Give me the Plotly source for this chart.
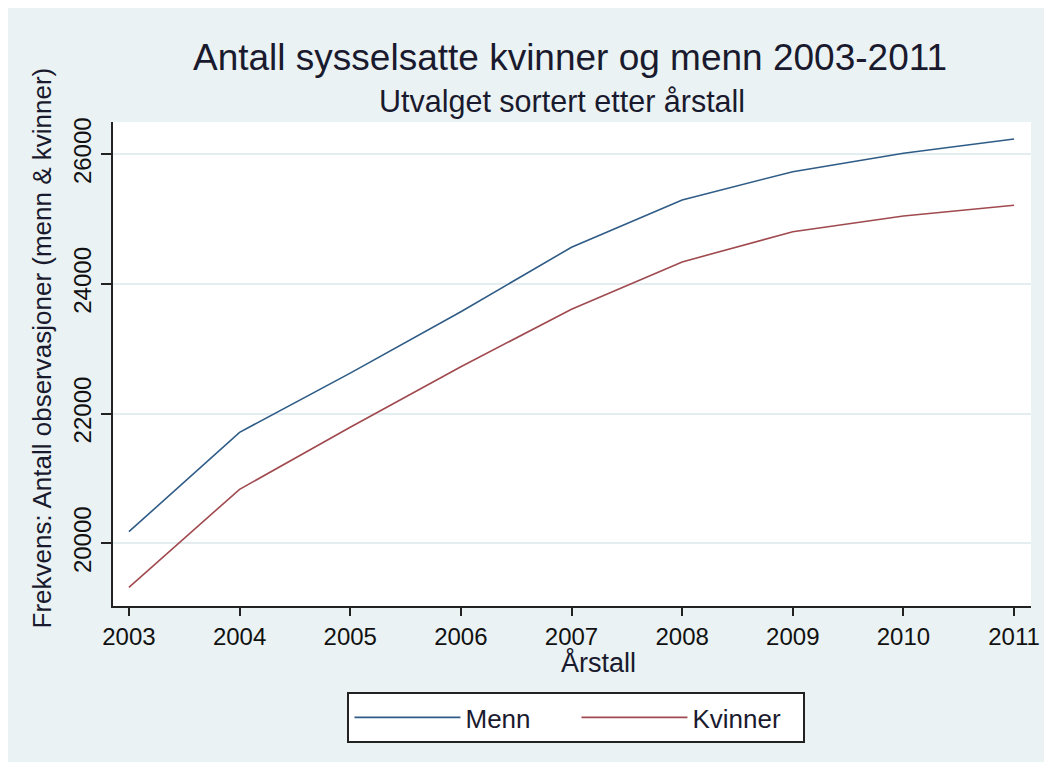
import plotly.graph_objects as go

years = [2003, 2004, 2005, 2006, 2007, 2008, 2009, 2010, 2011]
menn = [20179, 21712, 22625, 23572, 24566, 25295, 25732, 26015, 26236]
kvinner = [19321, 20833, 21789, 22724, 23609, 24340, 24806, 25048, 25213]
y_ticks = [20000, 22000, 24000, 26000]

# page offset of the figure (body margin) and figure size
OX, OY = 8, 8
W, H = 1044, 754
# plot area in screenshot pixels
L, R, T, B = 113 - OX, 1037 - OX, 122 - OY, 606 - OY
pw, ph = R - L, B - T


def px(x):
    return (x - OX - L) / pw


def py(y):
    return (B - (y - OY)) / ph


BG = "#EAF2F3"
FONT = "Liberation Sans, Arial, sans-serif"
TXT = "#1a1a2e"

fig = go.Figure()
fig.add_trace(go.Scatter(x=years, y=menn, mode="lines", name="Menn",
                         line=dict(color="#2F5C87", width=1.6)))
fig.add_trace(go.Scatter(x=years, y=kvinner, mode="lines", name="Kvinner",
                         line=dict(color="#A04A4F", width=1.6)))

fig.update_layout(
    width=W, height=H,
    margin=dict(l=L, r=W - R, t=T, b=H - B, pad=0),
    paper_bgcolor=BG,
    plot_bgcolor="white",
    font=dict(family=FONT, color="#111111", size=24),
    showlegend=True,
    legend=dict(orientation="h", x=px(349), xanchor="left",
                y=py(692), yanchor="top",
                bgcolor="white", bordercolor="#222222", borderwidth=2,
                font=dict(size=26, family=FONT, color=TXT),
                itemwidth=106, entrywidth=106, traceorder="normal"),
    annotations=[
        dict(text="Antall sysselsatte kvinner og menn 2003-2011",
             xref="paper", yref="paper", x=px(573), y=py(57),
             xanchor="center", yanchor="middle", showarrow=False,
             font=dict(size=37, family=FONT, color=TXT)),
        dict(text="Utvalget sortert etter årstall",
             xref="paper", yref="paper", x=px(565), y=py(102),
             xanchor="center", yanchor="middle", showarrow=False,
             font=dict(size=30.5, family=FONT, color=TXT)),
        dict(text="Årstall",
             xref="paper", yref="paper", x=px(602), y=py(662),
             xanchor="center", yanchor="middle", showarrow=False,
             font=dict(size=27, family=FONT, color=TXT)),
        dict(text="Frekvens: Antall observasjoner (menn & kvinner)",
             xref="paper", yref="paper", x=px(42), y=py(348),
             xanchor="center", yanchor="middle", showarrow=False,
             textangle=-90,
             font=dict(size=26, family=FONT, color=TXT)),
    ],
)

fig.update_xaxes(range=[2002.856, 2011.153], tickmode="array", tickvals=years,
                 ticktext=[str(y) for y in years],
                 showgrid=False, zeroline=False,
                 showline=True, linecolor="#222222", linewidth=2,
                 ticks="outside", ticklen=8, tickwidth=2, tickcolor="#222222",
                 tickfont=dict(size=24, family=FONT, color="#111111"))
fig.update_yaxes(range=[19033, 26498], tickmode="array", tickvals=y_ticks,
                 ticktext=[str(v) for v in y_ticks],
                 showgrid=True, gridcolor="#E4EEF0", gridwidth=1.5,
                 zeroline=False,
                 showline=True, linecolor="#222222", linewidth=2,
                 ticks="outside", ticklen=10, tickwidth=2, tickcolor="#222222",
                 tickangle=-90,
                 tickfont=dict(size=24, family=FONT, color="#111111"))

fig.write_html("out.html")
